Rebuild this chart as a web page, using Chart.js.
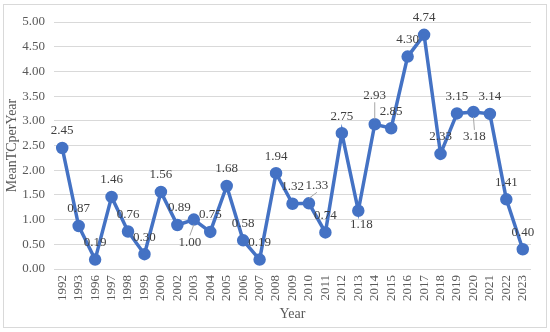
<!DOCTYPE html>
<html>
<head>
<meta charset="utf-8">
<script src="https://cdn.jsdelivr.net/npm/chart.js@4.4.0/dist/chart.umd.min.js"></script>
<style>
  html, body { margin: 0; padding: 0; background: #fff; }
  #wrap { position: relative; width: 550px; height: 332px; }
</style>
</head>
<body>
<div id="wrap"><canvas id="meanChart" width="550" height="332"></canvas></div>
<script>
const years = ['1992', '1993', '1996', '1997', '1998', '1999', '2000', '2002', '2003', '2004',
    '2005', '2006', '2007', '2008', '2009', '2010', '2011', '2012', '2013', '2014',
    '2015', '2016', '2017', '2018', '2019', '2020', '2021', '2022', '2023'];
const meanTC = [2.45, 0.87, 0.19, 1.46, 0.76, 0.30, 1.56, 0.89, 1.00, 0.75,
    1.68, 0.58, 0.19, 1.94, 1.32, 1.33, 0.74, 2.75, 1.18, 2.93,
    2.85, 4.30, 4.74, 2.33, 3.15, 3.18, 3.14, 1.41, 0.40];
const yTicks = [0, 0.5, 1, 1.5, 2, 2.5, 3, 3.5, 4, 4.5, 5];

// label placement tweaks (year -> [dx, dy, leader line])
const labelMoves = {
    '2002': [2, -17, false],
    '2003': [-4, 23, true],
    '2010': [8, -18, true],
    '2013': [3, 14, false],
    '2014': [0, -29, true],
    '2020': [1, 25, true]
};

const blue = '#4472c4';
const serif = "'Liberation Serif', 'Times New Roman', serif";

const frame = {
    id: 'frame',
    beforeDraw(chart) {
        const c = chart.ctx;
        c.save();
        c.strokeStyle = '#d9d9d9';
        c.lineWidth = 1;
        c.strokeRect(3.5, 4.5, 543, 323);
        c.restore();
    }
};

const pointLabels = {
    id: 'pointLabels',
    afterDatasetsDraw(chart) {
        const c = chart.ctx;
        const meta = chart.getDatasetMeta(0);
        c.save();
        c.font = '13px ' + serif;
        c.fillStyle = '#404040';
        c.textAlign = 'center';
        c.textBaseline = 'middle';
        meta.data.forEach((pt, i) => {
            const mv = labelMoves[years[i]] || [0, -17, false];
            const lx = pt.x + mv[0];
            const ly = pt.y + mv[1];
            if (mv[2]) {
                c.strokeStyle = '#a6a6a6';
                c.lineWidth = 1;
                c.beginPath();
                const dir = mv[1] > 0 ? 1 : -1;
                c.moveTo(pt.x, pt.y + dir * 5);
                c.lineTo(lx, ly - dir * 7);
                c.stroke();
            }
            c.fillText(meanTC[i].toFixed(2), lx, ly);
        });
        c.restore();
    }
};

new Chart(document.getElementById('meanChart'), {
    type: 'line',
    data: {
        labels: years,
        datasets: [{
            data: meanTC,
            borderColor: blue,
            backgroundColor: blue,
            borderWidth: 3.5,
            pointRadius: 4.5,
            pointBackgroundColor: blue,
            pointBorderColor: blue,
            tension: 0
        }]
    },
    options: {
        responsive: false,
        animation: false,
        devicePixelRatio: 1,
        layout: { padding: { left: 0, right: 19, top: 22, bottom: 0 } },
        plugins: {
            legend: { display: false },
            tooltip: { enabled: false }
        },
        scales: {
            x: {
                offset: true,
                grid: { display: false, drawTicks: false },
                border: { display: false },
                ticks: {
                    minRotation: 90, maxRotation: 90, autoSkip: false, padding: 6,
                    color: '#595959', font: { family: serif, size: 13 }
                },
                title: {
                    display: true, text: 'Year', color: '#595959',
                    font: { family: serif, size: 14 }, padding: { top: 0, bottom: 9 }
                },
                afterFit(scale) { scale.height = 63; }
            },
            y: {
                min: 0, max: 5,
                afterBuildTicks(scale) { scale.ticks = yTicks.map(v => ({ value: v })); },
                grid: { color: '#d9d9d9', drawTicks: false },
                border: { display: false },
                ticks: {
                    padding: 9, color: '#595959', font: { family: serif, size: 13 },
                    callback: v => Number(v).toFixed(2)
                },
                title: {
                    display: true, text: 'MeanTCperYear', color: '#595959',
                    font: { family: serif, size: 14 }, padding: { top: 4, bottom: 0 }
                },
                afterFit(scale) { scale.width = 54; }
            }
        }
    },
    plugins: [frame, pointLabels]
});
</script>
</body>
</html>
